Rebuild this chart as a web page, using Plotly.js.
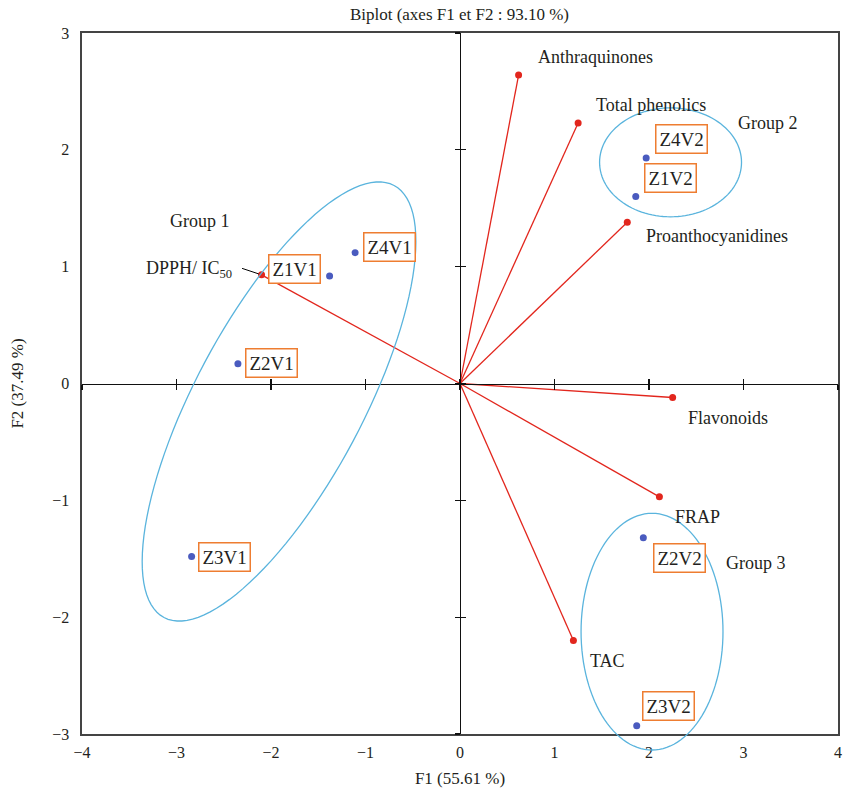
<!DOCTYPE html>
<html>
<head>
<meta charset="utf-8">
<script src="https://cdn.plot.ly/plotly-3.0.1.min.js"></script>
<style>html,body{margin:0;padding:0;background:#fff;}#chart{width:843px;height:795px;}</style>
</head>
<body>
<div id="chart"></div>
<script>
// ---- data ----
const varNames = ['Anthraquinones', 'Total phenolics', 'Proanthocyanidines', 'Flavonoids', 'FRAP', 'TAC', 'DPPH/ IC<sub>50</sub>'];
const varF1 = [0.62, 1.25, 1.77, 2.25, 2.11, 1.20, -2.10];
const varF2 = [2.64, 2.23, 1.38, -0.12, -0.97, -2.20, 0.93];

const obsNames = ['Z4V1', 'Z1V1', 'Z2V1', 'Z3V1', 'Z4V2', 'Z1V2', 'Z2V2', 'Z3V2'];
const obsF1 = [-1.11, -1.38, -2.35, -2.84, 1.97, 1.86, 1.94, 1.87];
const obsF2 = [1.12, 0.92, 0.17, -1.48, 1.93, 1.60, -1.32, -2.93];

const groupNames = ['Group 1', 'Group 2', 'Group 3'];

const xTicks = [-4, -3, -2, -1, 0, 1, 2, 3, 4];
const yTicks = [-3, -2, -1, 0, 1, 2, 3];

// ---- styles ----
const RED = '#e2261d';
const BLUE = '#4a5bbf';
const ORANGE = '#ee7d31';
const ELL = '#5ab4dd';
const TXT = '#231f20';
const FONT = 'Liberation Serif, Times New Roman, serif';
const xRange = [-4, 4], yRange = [-3, 3];

// vector lines from origin
const lx = [], ly = [];
varF1.forEach((v, i) => { lx.push(0, v, null); ly.push(0, varF2[i], null); });

const traces = [
  {x: lx, y: ly, mode: 'lines', line: {color: RED, width: 1.3}, hoverinfo: 'skip', showlegend: false},
  {x: varF1, y: varF2, mode: 'markers', marker: {color: RED, size: 7}, showlegend: false, text: varNames},
  {x: obsF1, y: obsF2, mode: 'markers', marker: {color: BLUE, size: 7}, showlegend: false, text: obsNames},
  // dummy traces to create the crossing axes through the origin
  {x: [], y: [], xaxis: 'x2', yaxis: 'y2', showlegend: false},
  {x: [], y: [], xaxis: 'x3', yaxis: 'y3', showlegend: false}
];

// ellipse shapes (data units -> paper fraction through the axis ranges)
function toPX(x) { return (x - xRange[0]) / (xRange[1] - xRange[0]); }
function toPY(y) { return (y - yRange[0]) / (yRange[1] - yRange[0]); }
function ellipsePath(cx, cy, M, m) {
  let s = '';
  for (let k = 0; k <= 120; k++) {
    const t = 2 * Math.PI * k / 120;
    const x = cx + Math.cos(t) * M[0] + Math.sin(t) * m[0];
    const y = cy + Math.cos(t) * M[1] + Math.sin(t) * m[1];
    s += (k === 0 ? 'M ' : ' L ') + toPX(x).toFixed(5) + ',' + toPY(y).toFixed(5);
  }
  return s + ' Z';
}
const ellipses = [
  ellipsePath(-1.915, -0.154, [1.217, 1.849], [0.785, -0.337]),
  ellipsePath(2.228, 1.893, [0.751, 0], [0, 0.466]),
  ellipsePath(2.032, -2.124, [0.751, 0], [0, 1.013])
];
const shapes = ellipses.map(p => ({type: 'path', xref: 'paper', yref: 'paper', path: p,
  line: {color: ELL, width: 1.3}, fillcolor: 'rgba(0,0,0,0)', layer: 'above'}));

// annotations
const annotations = [];
const varOff = [[77, 18], [73, 18], [90, -14], [55, -20], [38, -20], [34, -20], [-73, 5]];
varNames.forEach((n, i) => {
  annotations.push({x: varF1[i], y: varF2[i], text: n, showarrow: false,
    xshift: varOff[i][0], yshift: varOff[i][1], font: {family: FONT, size: 18, color: TXT}});
});
// DPPH leader line
annotations.push({x: varF1[6], y: varF2[6], text: '', showarrow: true, arrowhead: 0, arrowwidth: 1,
  arrowcolor: '#000', ax: -21, ay: -7, standoff: 3});

const obsOff = [[34, 6], [-35, 7], [34, 1], [33, -1], [35, 19], [35, 19], [36, -20], [32, 20]];
obsNames.forEach((n, i) => {
  annotations.push({x: obsF1[i], y: obsF2[i], text: n, showarrow: false,
    xshift: obsOff[i][0], yshift: obsOff[i][1], bgcolor: '#fff', bordercolor: ORANGE,
    borderwidth: 1.5, borderpad: 3, font: {family: FONT, size: 19, color: TXT}});
});

const groupPos = [[-2.75, 1.39], [3.26, 2.23], [3.13, -1.54]];
groupNames.forEach((n, i) => {
  annotations.push({x: groupPos[i][0], y: groupPos[i][1], text: n, showarrow: false,
    font: {family: FONT, size: 18, color: TXT}});
});

const crossAxX = {range: xRange, overlaying: 'x', anchor: 'free', position: 0.5, tickvals: xTicks,
  showticklabels: false, showgrid: false, zeroline: false, showline: true, linecolor: '#111', linewidth: 1.2,
  ticklen: 5, tickwidth: 1.2, tickcolor: '#111', fixedrange: true};
const crossAxY = {range: yRange, overlaying: 'y', anchor: 'free', position: 0.5, tickvals: yTicks,
  showticklabels: false, showgrid: false, zeroline: false, showline: true, linecolor: '#111', linewidth: 1.2,
  ticklen: 5, tickwidth: 1.2, tickcolor: '#111', fixedrange: true};

const layout = {
  width: 843, height: 795,
  margin: {l: 82, r: 5, t: 33, b: 61},
  paper_bgcolor: '#fff', plot_bgcolor: '#fff',
  showlegend: false,
  font: {family: FONT, color: TXT},
  title: {text: 'Biplot (axes F1 et F2 : 93.10 %)', x: 0.545, xanchor: 'center', y: 0.982, yanchor: 'middle',
    font: {family: FONT, size: 17, color: TXT}},
  xaxis: {range: xRange, tickvals: xTicks, showgrid: false, zeroline: false, showline: true, mirror: true,
    linecolor: '#444', linewidth: 1.6, ticks: '', ticklabelstandoff: 3,
    tickfont: {family: FONT, size: 16, color: TXT},
    title: {text: 'F1 (55.61 %)', font: {family: FONT, size: 17, color: TXT}, standoff: 12}},
  yaxis: {range: yRange, tickvals: yTicks, showgrid: false, zeroline: false, showline: true, mirror: true,
    linecolor: '#444', linewidth: 1.6, ticks: '', ticklabelstandoff: 8,
    tickfont: {family: FONT, size: 16, color: TXT},
    title: {text: 'F2 (37.49 %)', font: {family: FONT, size: 17, color: TXT}, standoff: 24}},
  xaxis2: Object.assign({}, crossAxX, {ticks: 'outside'}),
  xaxis3: Object.assign({}, crossAxX, {ticks: 'inside'}),
  yaxis2: Object.assign({}, crossAxY, {ticks: 'outside'}),
  yaxis3: Object.assign({}, crossAxY, {ticks: 'inside'}),
  shapes: shapes,
  annotations: annotations
};

Plotly.newPlot('chart', traces, layout, {displayModeBar: false, staticPlot: true});
</script>
</body>
</html>
